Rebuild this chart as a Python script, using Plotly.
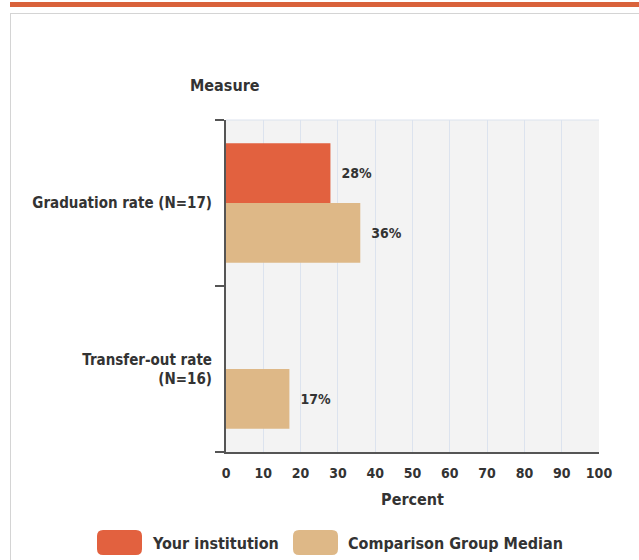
import plotly.graph_objects as go

categories = ["Graduation rate (N=17)", "Transfer-out rate<br>(N=16)"]
series_names = ["Your institution", "Comparison Group Median"]
your_institution = [28, None]
comparison_median = [36, 17]
x_ticks = [0, 10, 20, 30, 40, 50, 60, 70, 80, 90, 100]

ORANGE = "#e2613f"
TAN = "#deb887"
TEXT = "#333333"
FONT = "DejaVu Sans Condensed, sans-serif"

W, H = 639, 560
ML, MR, MT, MB = 226, 40, 120, 108
PW, PH = W - ML - MR, H - MT - MB


def px(x):
    return (x - ML) / PW


def py(y):
    return (H - MB - y) / PH


fig = go.Figure()
for name, vals, col in [(series_names[0], your_institution, ORANGE),
                        (series_names[1], comparison_median, TAN)]:
    fig.add_trace(go.Bar(
        y=categories, x=vals, name=name, orientation="h",
        marker=dict(color=col, line=dict(width=0)),
        text=[None if v is None else f"  <b>{v}%</b>" for v in vals],
        textposition="outside", cliponaxis=False,
        textfont=dict(family=FONT, size=14, color=TEXT),
        showlegend=False, hoverinfo="skip",
    ))

shapes = [
    # top orange band
    dict(type="rect", xref="paper", yref="paper", x0=px(10), x1=px(639), y0=py(2), y1=py(7),
         fillcolor="#d9623b", line=dict(width=0), layer="above"),
    # card border
    dict(type="line", xref="paper", yref="paper", x0=px(10.5), x1=px(10.5), y0=py(13), y1=py(560),
         line=dict(color="#d4d4d4", width=1)),
    dict(type="line", xref="paper", yref="paper", x0=px(10), x1=px(639), y0=py(13.5), y1=py(13.5),
         line=dict(color="#d4d4d4", width=1)),
    # top light border of plot
    dict(type="line", xref="paper", yref="paper", x0=0, x1=1, y0=1, y1=1,
         line=dict(color="#dce3ee", width=1), layer="below"),
]


def rounded(x0, y0, x1, y1, r):
    X0, X1 = px(x0), px(x1)
    Y0, Y1 = py(y0), py(y1)
    rx, ry = r / PW, r / PH
    return (f"M{X0+rx},{Y0} L{X1-rx},{Y0} Q{X1},{Y0} {X1},{Y0-ry} L{X1},{Y1+ry} "
            f"Q{X1},{Y1} {X1-rx},{Y1} L{X0+rx},{Y1} Q{X0},{Y1} {X0},{Y1+ry} "
            f"L{X0},{Y0-ry} Q{X0},{Y0} {X0+rx},{Y0} Z")


for (x0, col) in [(97, ORANGE), (293, TAN)]:
    shapes.append(dict(type="path", xref="paper", yref="paper",
                       path=rounded(x0, 530, x0 + 45, 555, 6),
                       fillcolor=col, line=dict(width=0)))

annotations = [
    dict(text="<b>Measure</b>", xref="paper", yref="paper", x=px(225), y=py(85),
         xanchor="center", yanchor="middle", showarrow=False,
         font=dict(family=FONT, size=16, color=TEXT)),
    dict(text=f"<b>{series_names[0]}</b>", xref="paper", yref="paper", x=px(150), y=py(543),
         xanchor="left", yanchor="middle", showarrow=False,
         font=dict(family=FONT, size=16, color=TEXT)),
    dict(text=f"<b>{series_names[1]}</b>", xref="paper", yref="paper", x=px(346), y=py(543),
         xanchor="left", yanchor="middle", showarrow=False,
         font=dict(family=FONT, size=16, color=TEXT)),
]

fig.update_layout(
    width=W, height=H,
    margin=dict(l=ML, r=MR, t=MT, b=MB, autoexpand=False),
    paper_bgcolor="white", plot_bgcolor="#f3f3f3",
    barmode="group", bargap=0.28, bargroupgap=0,
    font=dict(family=FONT, size=15, color=TEXT),
    shapes=shapes, annotations=annotations,
    xaxis=dict(range=[0, 100], tickvals=x_ticks, ticktext=[f"<b>{t}</b>" for t in x_ticks],
               showgrid=True, gridcolor="#dce3ee",
               gridwidth=1, zeroline=False, showline=True, linecolor="#555555", linewidth=2,
               ticks="", ticklabelstandoff=7,
               tickfont=dict(family=FONT, size=14, color=TEXT),
               title=dict(text="<b>Percent</b>", font=dict(family=FONT, size=16, color=TEXT),
                          standoff=14)),
    yaxis=dict(autorange="reversed", showline=True, linecolor="#555555", linewidth=2,
               ticks="outside", tickson="boundaries", ticklen=9, tickcolor="#555555",
               tickwidth=2, showgrid=False,
               tickvals=categories, ticktext=[f"<b>{c}</b>" for c in categories],
               tickfont=dict(family=FONT, size=15, color=TEXT), ticklabelstandoff=9),
)

fig.write_html("out.html", config={"displayModeBar": False},
               post_script="document.body.style.margin='0';")
